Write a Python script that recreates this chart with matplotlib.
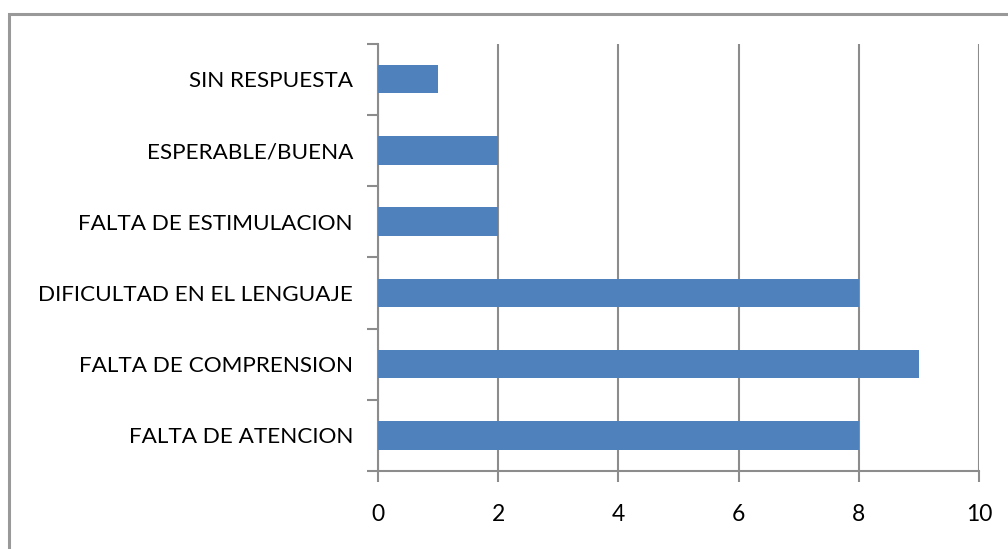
import matplotlib
matplotlib.use("Agg")
import matplotlib.pyplot as plt
from matplotlib.patches import Rectangle

# Data
categories = ["FALTA DE ATENCION", "FALTA DE COMPRENSION", "DIFICULTAD EN EL LENGUAJE",
              "FALTA DE ESTIMULACION", "ESPERABLE/BUENA", "SIN RESPUESTA"]
values = [8, 9, 8, 2, 2, 1]
xticks = [0, 2, 4, 6, 8, 10]

plt.rcParams["font.family"] = ["Lato", "DejaVu Sans"]
gray = "#8c8c8c"

fig = plt.figure(figsize=(10.08, 5.49), dpi=100)
ax = fig.add_axes([378/1008, 78/549, 601/1008, 427.5/549])

# outer chart border (only top and left visible)
fig.patches.append(Rectangle((9/1008, -0.1), 1.1, (549-14)/549 + 0.1, transform=fig.transFigure,
                             fill=False, edgecolor="#999999", linewidth=2.2))

y = list(range(len(categories)))
ax.barh(y, values, height=0.4, color="#4f81bd", zorder=3)

ax.set_xlim(0, 10)
ax.set_ylim(-0.5, len(categories) - 0.5)
ax.set_xticks(xticks)
ax.set_xticklabels([str(v) for v in xticks], fontsize=16.5)
ax.set_yticks(y)
ax.set_yticklabels(categories, fontsize=16.2)
ax.set_yticks([i - 0.5 for i in range(len(categories) + 1)], minor=True)
ax.tick_params(axis="y", which="major", length=0, pad=18)
ax.tick_params(axis="y", which="minor", length=8, width=1.5, color=gray)
ax.tick_params(axis="x", length=8, width=1.5, color=gray, pad=16)

ax.grid(axis="x", color=gray, linewidth=1.5, zorder=0)
for s in ["top", "right"]:
    ax.spines[s].set_visible(False)
for s in ["left", "bottom"]:
    ax.spines[s].set_color(gray)
    ax.spines[s].set_linewidth(1.5)

fig.savefig("out.png", dpi=100)
